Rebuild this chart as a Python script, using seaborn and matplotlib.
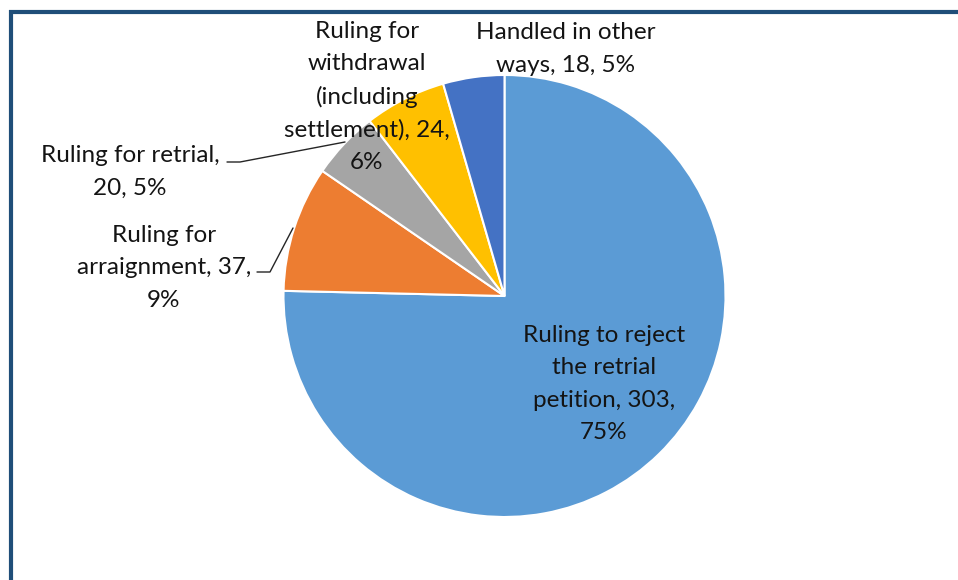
import matplotlib
matplotlib.use("Agg")
import matplotlib.pyplot as plt
import seaborn as sns
from matplotlib.lines import Line2D

# ---- data ----
categories = [
    "Ruling to reject the retrial petition",
    "Ruling for arraignment",
    "Ruling for retrial",
    "Ruling for withdrawal (including settlement)",
    "Handled in other ways",
]
counts = [303, 37, 20, 24, 18]
pct_labels = ["75%", "9%", "5%", "6%", "5%"]
label_templates = [
    "Ruling to reject\nthe retrial\npetition, {c},\n{p}",
    "Ruling for\narraignment, {c},\n{p}",
    "Ruling for retrial,\n{c}, {p}",
    "Ruling for\nwithdrawal\n(including\nsettlement), {c},\n{p}",
    "Handled in other\nways, {c}, {p}",
]
colors = ["#5B9BD5", "#ED7D31", "#A5A5A5", "#FFC000", "#4472C4"]

sns.set_theme(style="white")
plt.rcParams["font.family"] = ["Lato", "DejaVu Sans"]

W, H = 958, 580
fig = plt.figure(figsize=(W / 100, H / 100), dpi=100)
ax = fig.add_axes([0, 0, 1, 1])

def Y(y):
    return H - y

palette = sns.color_palette(colors)
ax.pie(counts, colors=palette, startangle=90, counterclock=False,
       center=(504.5, Y(296)), radius=221,
       wedgeprops=dict(edgecolor="white", linewidth=1.5))
ax.set_xlim(0, W)
ax.set_ylim(0, H)
ax.set_aspect("auto")
ax.axis("off")

# label positions (pixel centres)
label_pos = [(604, 384), (164, 268), (130, 172), (367, 97), (566, 49)]
txt_color = "#141414"
for tmpl, c, p, (x, y) in zip(label_templates, counts, pct_labels, label_pos):
    ax.text(x, Y(y), tmpl.format(c=c, p=p), ha="center", va="center",
            multialignment="center", fontsize=17.5, color=txt_color,
            linespacing=1.65)

# leader lines
ax.plot([257, 270, 293], [Y(272), Y(272), Y(228)], color="#262626", lw=1.0)
ax.plot([227, 240, 345], [Y(162), Y(162), Y(142)], color="#262626", lw=1.0)

# frame (left and top borders)
frame_color = "#1F4E79"
fig.add_artist(Line2D([11 / W, 11 / W], [1 - 10 / H, 0], transform=fig.transFigure,
                      color=frame_color, lw=3, solid_capstyle="butt"))
fig.add_artist(Line2D([9 / W, 1], [1 - 12 / H, 1 - 12 / H], transform=fig.transFigure,
                      color=frame_color, lw=3, solid_capstyle="butt"))

fig.savefig("out.png", dpi=100)
